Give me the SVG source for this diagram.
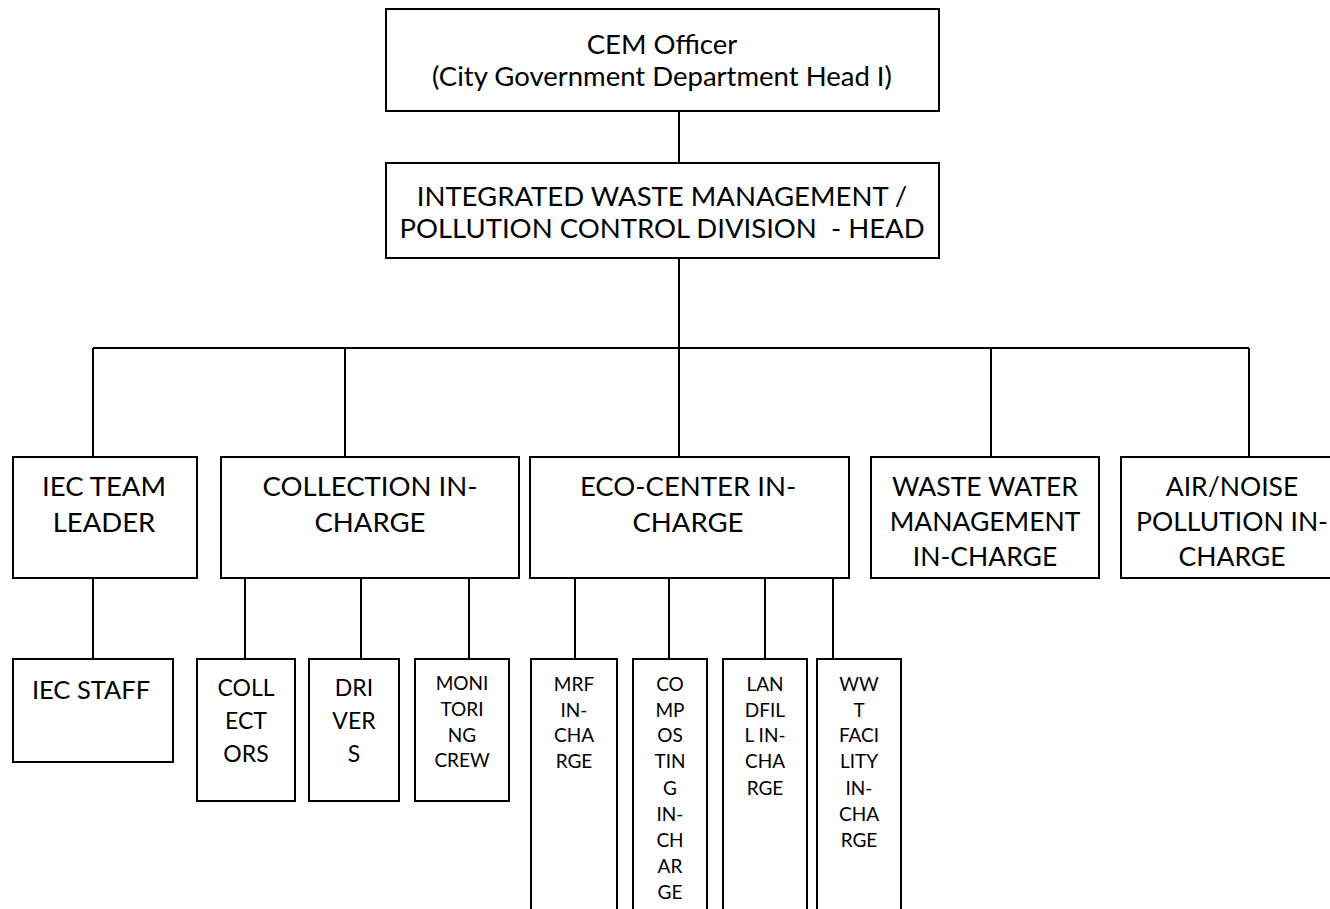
<svg xmlns="http://www.w3.org/2000/svg" width="1330" height="909" viewBox="0 0 1330 909">
<style>
.box{fill:#fff;stroke:#000;stroke-width:2}
.ln{stroke:#000;stroke-width:2;fill:none}
text{font-family:Lato,"Open Sans","Liberation Sans",sans-serif;fill:#000;text-anchor:middle;white-space:pre}
.t1{font-size:27.5px}
.t2{font-size:26.5px}
.t3{font-size:23px}
.t4{font-size:19px}
</style>
<rect width="1330" height="909" fill="#fff"/>
<g id="connectors">
<path class="ln" d="M679 111V163M679 258V348M93 348H1249M93 348V457M345 348V457M679 348V457M991 348V457M1249 348V457"/>
<path class="ln" d="M93 578V659M245 578V659M361 578V659M469 578V659"/>
<path class="ln" d="M575 578V659M669 578V659M765 578V659M833 578V659"/>
</g>
<g id="cem-officer">
<rect class="box" x="386" y="9" width="553" height="102"/>
<text class="t1" x="662" y="54">CEM Officer</text>
<text class="t1" x="662" y="86">(City Government Department Head I)</text>
</g>
<g id="iwm-head">
<rect class="box" x="386" y="163" width="553" height="95"/>
<text class="t1" x="662" y="206">INTEGRATED WASTE MANAGEMENT /</text>
<text class="t1" x="662" y="238">POLLUTION CONTROL DIVISION  - HEAD</text>
</g>
<g id="iec-team-leader">
<rect class="box" x="13" y="457" width="184" height="121"/>
<text class="t1" x="104" y="496">IEC TEAM</text>
<text class="t1" x="104" y="532">LEADER</text>
</g>
<g id="collection-in-charge">
<rect class="box" x="221" y="457" width="298" height="121"/>
<text class="t1" x="370" y="496">COLLECTION IN-</text>
<text class="t1" x="370" y="532">CHARGE</text>
</g>
<g id="eco-center-in-charge">
<rect class="box" x="530" y="457" width="319" height="121"/>
<text class="t1" x="688" y="496">ECO-CENTER IN-</text>
<text class="t1" x="688" y="532">CHARGE</text>
</g>
<g id="waste-water-in-charge">
<rect class="box" x="871" y="457" width="228" height="121"/>
<text class="t2" x="985" y="496">WASTE WATER</text>
<text class="t2" x="985" y="531">MANAGEMENT</text>
<text class="t2" x="985" y="566">IN-CHARGE</text>
</g>
<g id="air-noise-in-charge">
<rect class="box" x="1121" y="457" width="230" height="121"/>
<text class="t2" x="1232" y="496">AIR/NOISE</text>
<text class="t2" x="1232" y="531">POLLUTION IN-</text>
<text class="t2" x="1232" y="566">CHARGE</text>
</g>
<g id="iec-staff">
<rect class="box" x="13" y="659" width="160" height="103"/>
<text x="91" y="699" style="font-size:25.5px">IEC STAFF</text>
</g>
<g id="collectors">
<rect class="box" x="197" y="659" width="98" height="142"/>
<text class="t3" x="246" y="696">COLL</text>
<text class="t3" x="246" y="729">ECT</text>
<text class="t3" x="246" y="762">ORS</text>
</g>
<g id="drivers">
<rect class="box" x="309" y="659" width="90" height="142"/>
<text class="t3" x="354" y="696">DRI</text>
<text class="t3" x="354" y="729">VER</text>
<text class="t3" x="354" y="762">S</text>
</g>
<g id="monitoring-crew">
<rect class="box" x="415" y="659" width="94" height="142"/>
<text class="t4" x="462" y="690">MONI</text>
<text class="t4" x="462" y="716">TORI</text>
<text class="t4" x="462" y="742">NG</text>
<text class="t4" x="462" y="767">CREW</text>
</g>
<g id="mrf-in-charge">
<rect class="box" x="531" y="659" width="86" height="270"/>
<text class="t4" x="574" y="691">MRF</text>
<text class="t4" x="574" y="717">IN-</text>
<text class="t4" x="574" y="742">CHA</text>
<text class="t4" x="574" y="768">RGE</text>
</g>
<g id="composting-in-charge">
<rect class="box" x="633" y="659" width="74" height="270"/>
<text class="t4" x="670" y="691">CO</text>
<text class="t4" x="670" y="717">MP</text>
<text class="t4" x="670" y="742">OS</text>
<text class="t4" x="670" y="768">TIN</text>
<text class="t4" x="670" y="795">G</text>
<text class="t4" x="670" y="821">IN-</text>
<text class="t4" x="670" y="847">CH</text>
<text class="t4" x="670" y="873">AR</text>
<text class="t4" x="670" y="899">GE</text>
</g>
<g id="landfill-in-charge">
<rect class="box" x="723" y="659" width="84" height="270"/>
<text class="t4" x="765" y="691">LAN</text>
<text class="t4" x="765" y="717">DFIL</text>
<text class="t4" x="765" y="742">L IN-</text>
<text class="t4" x="765" y="768">CHA</text>
<text class="t4" x="765" y="795">RGE</text>
</g>
<g id="wwt-facility-in-charge">
<rect class="box" x="817" y="659" width="84" height="270"/>
<text class="t4" x="859" y="691">WW</text>
<text class="t4" x="859" y="717">T</text>
<text class="t4" x="859" y="742">FACI</text>
<text class="t4" x="859" y="768">LITY</text>
<text class="t4" x="859" y="795">IN-</text>
<text class="t4" x="859" y="821">CHA</text>
<text class="t4" x="859" y="847">RGE</text>
</g>
</svg>
